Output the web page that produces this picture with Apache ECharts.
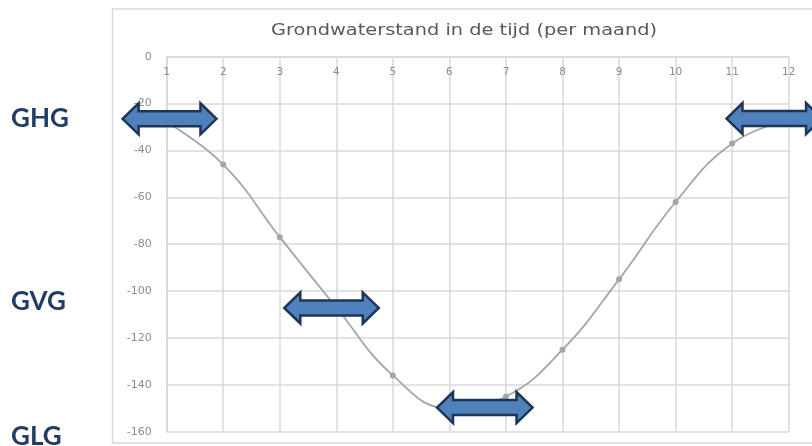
<!DOCTYPE html>
<html>
<head>
<meta charset="utf-8">
<script src="https://cdn.jsdelivr.net/npm/echarts@6/dist/echarts.min.js"></script>
<style>
  html, body { margin: 0; padding: 0; background: #ffffff; }
  #chart { width: 812px; height: 446px; }
</style>
</head>
<body>
<div id="chart"></div>
<script>
// Monthly groundwater level (cm relative to surface)
const months = [1, 2, 3, 4, 5, 6, 7, 8, 9, 10, 11, 12];
const levels = [-28, -46, -77, -107, -136, -150, -145, -125, -95, -62, -37, -27];

// Y axis ticks
const yTicks = [0, -20, -40, -60, -80, -100, -120, -140, -160];

// Double-headed arrows marking the characteristic levels: [fromMonth, toMonth, level]
const arrowGHG = [0.22, 1.88, -26.5];
const arrowGVG = [3.08, 4.75, -107.2];
const arrowGLG = [5.78, 7.47, -149.7];
const arrowGHG2 = [10.9, 12.59, -26.4];

// Side labels
const sideLabels = ['GHG', 'GVG', 'GLG'];
const chartTitle = 'Grondwaterstand in de tijd (per maand)';

const chart = echarts.init(document.getElementById('chart'), null, { renderer: 'canvas' });

// Title is set in a wide, airy style: stretch it to the intended width
const titleFont = '15px "DejaVu Sans", sans-serif';
const measureCtx = document.createElement('canvas').getContext('2d');
measureCtx.font = titleFont;
const titleScale = 386 / measureCtx.measureText(chartTitle).width;

function renderArrow(params, api) {
  const a = api.coord([api.value(0), api.value(2)]);
  const b = api.coord([api.value(1), api.value(2)]);
  const xl = a[0], xr = b[0], yc = a[1];
  const H = 15.5, s = 7.5, hl = 16;
  const pts = [
    [xl, yc], [xl + hl, yc - H], [xl + hl, yc - s], [xr - hl, yc - s],
    [xr - hl, yc - H], [xr, yc], [xr - hl, yc + H], [xr - hl, yc + s],
    [xl + hl, yc + s], [xl + hl, yc + H]
  ];
  return {
    type: 'polygon',
    shape: { points: pts },
    style: { fill: '#4f81bd', stroke: '#1d3655', lineWidth: 2.5, lineJoin: 'miter' }
  };
}

const gridColor = '#d9d9d9';
const tickFont = '"DejaVu Sans", sans-serif';
const sideFont = 'bold 26px Lato, sans-serif';
const sideColor = '#213d63';

chart.setOption({
  animation: false,
  backgroundColor: '#ffffff',
  grid: { left: 166.7, right: 23.3, top: 56.7, bottom: 14.3 },
  xAxis: {
    type: 'value',
    position: 'top',
    min: 1,
    max: 12,
    interval: 1,
    axisLine: { show: true, lineStyle: { color: gridColor, width: 1.5 } },
    axisTick: { show: false },
    axisLabel: {
      inside: true,
      margin: 10,
      color: '#8c8c8c',
      fontFamily: tickFont,
      fontSize: 10.5,
      formatter: v => String(v)
    },
    splitLine: { show: true, lineStyle: { color: gridColor, width: 1.5 } }
  },
  yAxis: {
    type: 'value',
    min: yTicks[yTicks.length - 1],
    max: yTicks[0],
    interval: 20,
    axisLine: { show: true, lineStyle: { color: gridColor, width: 1.5 } },
    axisTick: { show: false },
    axisLabel: {
      margin: 15,
      color: '#8c8c8c',
      fontFamily: tickFont,
      fontSize: 11
    },
    splitLine: { show: true, lineStyle: { color: gridColor, width: 1.5 } }
  },
  graphic: [
    {
      type: 'rect',
      shape: { x: 112.5, y: 9, width: 720, height: 434 },
      style: { fill: 'none', stroke: '#d9d9d9', lineWidth: 1.5 },
      z: -10,
      silent: true
    },
    {
      type: 'text', x: 464, y: 31, scaleX: titleScale,
      style: {
        text: chartTitle, font: titleFont, fill: '#595959',
        textAlign: 'center', textVerticalAlign: 'middle'
      }
    },
    {
      type: 'text', x: 11, y: 119,
      style: { text: sideLabels[0], font: sideFont, fill: sideColor, textVerticalAlign: 'middle' }
    },
    {
      type: 'text', x: 11, y: 302,
      style: { text: sideLabels[1], font: sideFont, fill: sideColor, textVerticalAlign: 'middle' }
    },
    {
      type: 'text', x: 11, y: 437,
      style: { text: sideLabels[2], font: sideFont, fill: sideColor, textVerticalAlign: 'middle' }
    }
  ],
  series: [
    {
      type: 'line',
      data: months.map((m, i) => [m, levels[i]]),
      smooth: 0.45,
      symbol: 'circle',
      symbolSize: 6,
      itemStyle: { color: '#a5a5a5' },
      lineStyle: { color: '#a5a5a5', width: 1.8 },
      z: 3
    },
    {
      type: 'custom',
      renderItem: renderArrow,
      clip: false,
      encode: { x: [0, 1], y: 2 },
      data: [arrowGHG, arrowGVG, arrowGLG, arrowGHG2],
      z: 10
    }
  ]
});
</script>
</body>
</html>
